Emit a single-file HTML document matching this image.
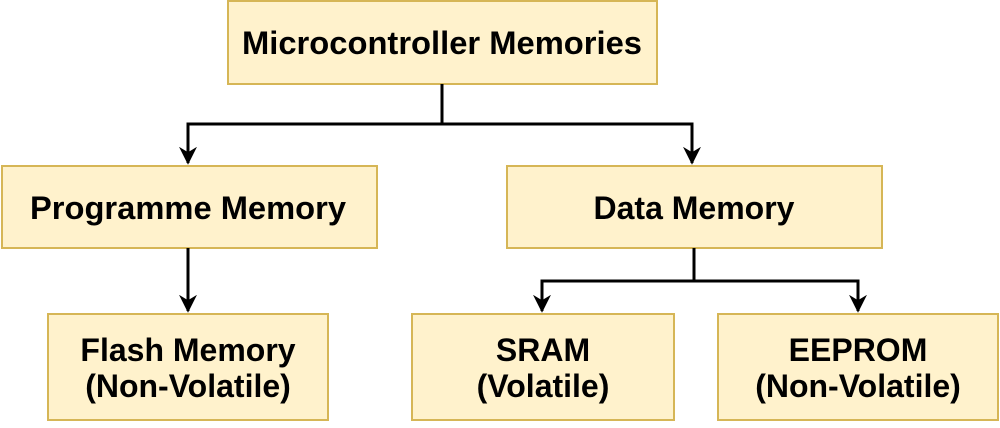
<!DOCTYPE html>
<html><head><meta charset="utf-8"><style>
body{margin:0;background:#fff;width:1000px;height:423px;overflow:hidden}
svg text{font-family:"Liberation Sans",Arial,sans-serif;font-weight:bold;font-size:32px;fill:#000;text-anchor:middle}
</style></head><body>
<svg width="1000" height="423" viewBox="0 0 1000 423">
<defs>
<marker id="b" viewBox="0 0 10 10" markerWidth="18" markerHeight="18" refX="9" refY="5" orient="auto" markerUnits="userSpaceOnUse"><path d="M0,0 L10,5 L0,10 L3,5 Z" fill="#000"/></marker></defs>
<g fill="#fff2cc" stroke="#d6b656" stroke-width="2">
<rect x="228" y="1" width="429" height="83"/>
<rect x="2" y="166" width="375" height="82"/>
<rect x="507" y="166" width="375" height="82"/>
<rect x="48" y="314" width="280" height="106"/>
<rect x="412" y="314" width="262" height="106"/>
<rect x="718" y="314" width="280" height="106"/>
</g>
<g stroke="#000" stroke-width="3" fill="none">
<path d="M442 84 V124 H188 V163" marker-end="url(#b)"/>
<path d="M442 124 H692 V163" marker-end="url(#b)"/>
<path d="M188 248 V311" marker-end="url(#b)"/>
<path d="M694 248 V281 H542 V311" marker-end="url(#b)"/>
<path d="M694 281 H858 V311" marker-end="url(#b)"/>
</g>
<text x="442" y="54" textLength="400" lengthAdjust="spacingAndGlyphs">Microcontroller Memories</text>
<text x="188" y="219" textLength="316" lengthAdjust="spacingAndGlyphs">Programme Memory</text>
<text x="694" y="219">Data Memory</text>
<text x="188" y="361">Flash Memory</text>
<text x="188" y="397">(Non-Volatile)</text>
<text x="543" y="361">SRAM</text>
<text x="543" y="397">(Volatile)</text>
<text x="858" y="361">EEPROM</text>
<text x="858" y="397">(Non-Volatile)</text>
</svg>
</body></html>
